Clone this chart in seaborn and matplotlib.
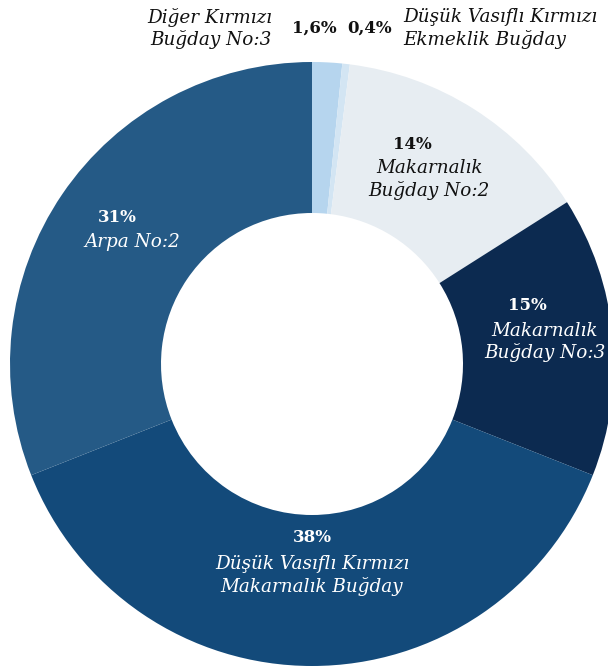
import numpy as np
import matplotlib
matplotlib.use("Agg")
import matplotlib.pyplot as plt
import seaborn as sns

# ---- data ----
pct_values = [1.6, 0.4, 14, 15, 38, 31]
pct_labels = ["1,6%", "0,4%", "14%", "15%", "38%", "31%"]
names = [
    "Diğer Kırmızı\nBuğday No:3",
    "Düşük Vasıflı Kırmızı\nEkmeklik Buğday",
    "Makarnalık\nBuğday No:2",
    "Makarnalık\nBuğday No:3",
    "Düşük Vasıflı Kırmızı\nMakarnalık Buğday",
    "Arpa No:2",
]
colors = ["#b6d5ee", "#d3e5f3", "#e7edf2", "#0c2a50", "#134a7a", "#255a86"]

sns.set_theme(style="white")
plt.rcParams["font.family"] = ["DejaVu Serif"]

W, H = 608, 668
fig = plt.figure(figsize=(W / 100, H / 100), dpi=100)
ax = fig.add_axes([0, 0, 1, 1])
R = 302.0
cx, cy = 312.0, 364.0

wedges, _ = ax.pie(
    pct_values,
    colors=colors,
    startangle=90,
    counterclock=False,
    radius=1.0,
    wedgeprops=dict(width=0.5, edgecolor="none", linewidth=0),
    normalize=True,
)
ax.set_xlim(-cx / R, (W - cx) / R)
ax.set_ylim((cy - H) / R, cy / R)
ax.set_aspect("equal")
ax.axis("off")

# inner labels (layout only)
layout = {
    2: dict(r=0.725, dx_pct=-17, dy_pct=-35, col="#111111"),
    3: dict(r=0.775, dx_pct=-18, dy_pct=-36, col="white"),
    4: dict(r=0.70, dx_pct=0, dy_pct=-38, col="white"),
    5: dict(r=0.72, dx_pct=-15, dy_pct=-24, col="white"),
}
name_fs = 13.2
pct_fs = 12
lsp = 1.25
for i, lay in layout.items():
    w = wedges[i]
    mid = np.deg2rad((w.theta1 + w.theta2) / 2)
    x, y = lay["r"] * np.cos(mid), lay["r"] * np.sin(mid)
    ax.text(x, y, names[i], ha="center", va="center", color=lay["col"],
            fontsize=name_fs, style="italic", linespacing=lsp)
    ax.annotate(pct_labels[i], (x, y), xytext=(lay["dx_pct"], -lay["dy_pct"]),
                textcoords="offset pixels", ha="center", va="center",
                color=lay["col"], fontsize=pct_fs, fontweight="bold")

# top outside labels for small slices
ytop = (cy - 28.5) / R
ax.text((314 - cx) / R, ytop, pct_labels[0], ha="center", va="center",
        color="#111111", fontsize=pct_fs, fontweight="bold")
ax.text((370 - cx) / R, ytop, pct_labels[1], ha="center", va="center",
        color="#111111", fontsize=pct_fs, fontweight="bold")
ax.text((272 - cx) / R, ytop, names[0], ha="right", va="center",
        color="#111111", fontsize=name_fs, style="italic", linespacing=lsp,
        multialignment="right")
ax.text((403 - cx) / R, ytop, names[1], ha="left", va="center",
        color="#111111", fontsize=name_fs, style="italic", linespacing=lsp,
        multialignment="left")

fig.savefig("out.png", dpi=100, facecolor="white")
